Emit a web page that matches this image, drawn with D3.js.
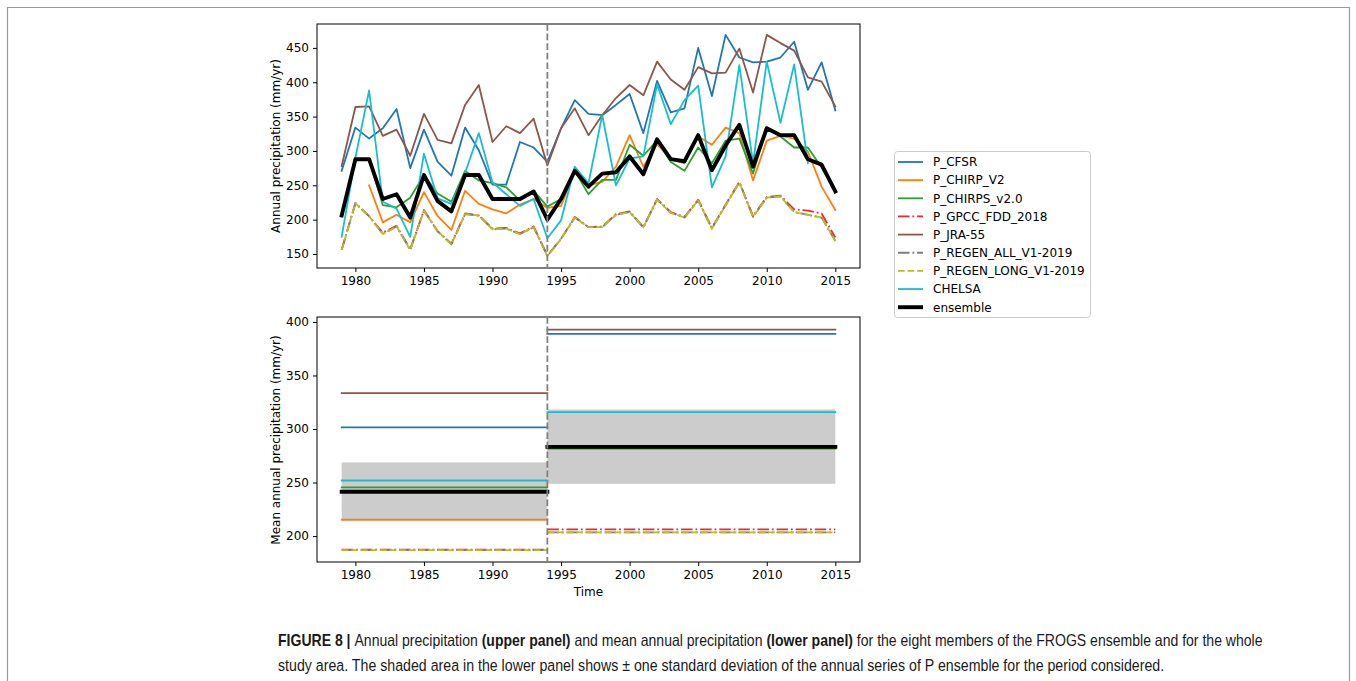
<!DOCTYPE html>
<html><head><meta charset="utf-8">
<script src="https://cdn.jsdelivr.net/npm/d3@7/dist/d3.min.js"></script>
<style>
body{margin:0;background:#fff;}
svg{display:block;}
</style></head>
<body>
<svg id="chart" width="1356" height="681"></svg>
<script>
// ---------- DATA ----------
const years = [1979,1980,1981,1982,1983,1984,1985,1986,1987,1988,1989,1990,1991,1992,1993,1994,1995,1996,1997,1998,1999,2000,2001,2002,2003,2004,2005,2006,2007,2008,2009,2010,2011,2012,2013,2014,2015];
const P_CFSR = [271,334,318,333,361,275,331,284,264,334,301,251,251,313,305,284,333,374,354,352,367,383,326,402,356,362,450,380,469,436,429,430,436,459,389,429,359];
const P_CHIRP_V2 = [null,null,250,196,207,196,240,205,185,242,223,215,209,222,230,217,220,271,250,255,277,323,277,310,288,282,321,309,334,326,257,315,322,318,299,248,214];
const P_CHIRPS_v2 = [null,null,288,221,218,232,265,238,226,271,257,253,247,228,242,219,230,271,237,258,258,309,293,315,284,271,305,282,315,318,267,334,321,305,305,276,241];
const P_GPCC_FDD_2018 = [156,224,205,181,191,157,214,183,165,209,206,187,188,180,190,148,172,204,189,190,208,212,189,230,211,204,229,188,222,255,205,233,235,215,213,209,174];
const P_JRA_55 = [278,364,365,322,331,293,354,316,311,367,396,313,336,326,347,279,333,362,323,352,377,396,381,430,404,389,422,413,414,449,385,469,457,446,407,401,365];
const P_REGEN_ALL = [156,224,205,179,190,156,213,183,164,208,206,186,187,179,189,147,172,203,189,189,207,211,189,229,210,203,228,187,221,254,204,232,234,211,207,203,169];
const P_REGEN_LONG = [156,224,205,179,190,156,213,183,164,208,206,186,187,179,189,147,172,203,189,189,207,211,189,229,210,203,228,187,221,254,204,232,234,211,207,203,169];
const CHELSA = [175,290,388,226,216,175,296,231,223,268,326,254,237,220,230,173,199,277,253,352,250,289,292,397,339,374,395,247,292,425,282,430,341,426,282,null,null];
const ensemble = [206,288,288,230,237,203,265,227,212,265,265,230,230,230,241,200,230,271,248,267,269,292,266,317,288,285,323,272,308,338,277,333,323,323,288,280,241];

const seriesNames = ["P_CFSR","P_CHIRP_V2","P_CHIRPS_v2.0","P_GPCC_FDD_2018","P_JRA-55","P_REGEN_ALL_V1-2019","P_REGEN_LONG_V1-2019","CHELSA","ensemble"];
const seriesValues = [P_CFSR,P_CHIRP_V2,P_CHIRPS_v2,P_GPCC_FDD_2018,P_JRA_55,P_REGEN_ALL,P_REGEN_LONG,CHELSA,ensemble];

// lower panel: period means (same series order)
const periodStart = [1979, 1994];
const periodEnd = [1994, 2015];
const meanEarly = [301.5,215.4,245.4,187.3,333.6,186.8,186.8,251.9,241.4];
const meanLate  = [388.9,282.5,281.8,206.2,392.9,203.4,203.4,315.7,283.3];
const bandLow  = [213.9, 248.8];
const bandHigh = [268.8, 318.2];
const breakYear = 1994;

const xTicks = [1980,1985,1990,1995,2000,2005,2010,2015];
const yTicksTop = [150,200,250,300,350,400,450];
const yTicksBottom = [200,250,300,350,400];

// ---------- STYLE ----------
const styles = [
  {color:"#1f77b4", dash:null, w:1.8},
  {color:"#ff7f0e", dash:null, w:1.8},
  {color:"#2ca02c", dash:null, w:1.8},
  {color:"#ee2a2a", dash:"11.5,2.9,1.8,2.9", w:1.8},
  {color:"#8c564b", dash:null, w:1.8},
  {color:"#7f7f7f", dash:"11.5,2.9,1.8,2.9", w:1.8},
  {color:"#bcbd22", dash:"6.7,2.9", w:1.8},
  {color:"#17becf", dash:null, w:1.8},
  {color:"#000000", dash:null, w:3.9}
];
const FONT = "DejaVu Sans, sans-serif";

const svg = d3.select("#chart");

// figure frame
svg.append("path").attr("d","M7.5,690 V7.5 H1349.5 V690")
  .attr("fill","none").attr("stroke","#9a9a9a").attr("stroke-width",1.2);

const axL = 317, axR = 860;
const x = d3.scaleLinear().domain([1977.2, 2016.8]).range([axL, axR]);
const yTop = d3.scaleLinear().domain([129.6, 484.8]).range([268, 24]);
const yBot = d3.scaleLinear().domain([175.8, 404.6]).range([562, 317]);

function drawAxes(g, y, yTicks, top, bottom){
  const ax = g.append("g").attr("transform",`translate(0,${bottom})`)
    .call(d3.axisBottom(x).tickValues(xTicks).tickFormat(d3.format("d")).tickSizeOuter(0).tickSize(4).tickPadding(4));
  const ay = g.append("g").attr("transform",`translate(${axL},0)`)
    .call(d3.axisLeft(y).tickValues(yTicks).tickSizeOuter(0).tickSize(4).tickPadding(4));
  [ax,ay].forEach(a=>{
    a.select(".domain").remove();
    a.selectAll("text").attr("font-family",FONT).attr("font-size",12).attr("fill","#000");
    a.selectAll("line").attr("stroke","#000").attr("stroke-width",1);
  });
  g.append("rect").attr("x",axL).attr("y",top).attr("width",axR-axL).attr("height",bottom-top)
    .attr("fill","none").attr("stroke","#000").attr("stroke-width",1);
  g.append("line").attr("x1",x(breakYear)).attr("x2",x(breakYear)).attr("y1",top).attr("y2",bottom)
    .attr("stroke","#808080").attr("stroke-width",1.8).attr("stroke-dasharray","6.7,2.9");
}

// ---------- UPPER PANEL ----------
const gTop = svg.append("g");
svg.append("clipPath").attr("id","ct").append("rect")
  .attr("x",axL).attr("y",24).attr("width",axR-axL).attr("height",244);
const line = d3.line().defined(d=>d[1]!==null).x(d=>x(d[0])).y(d=>yTop(d[1]));
const linesTop = gTop.append("g").attr("clip-path","url(#ct)");
seriesValues.forEach((vals,i)=>{
  const s = styles[i];
  linesTop.append("path").datum(years.map((yr,k)=>[yr,vals[k]]))
    .attr("d",line).attr("fill","none").attr("stroke",s.color).attr("stroke-width",s.w)
    .attr("stroke-linejoin","round").attr("stroke-linecap", s.dash ? "butt" : "square")
    .attr("stroke-dasharray",s.dash);
});
drawAxes(gTop, yTop, yTicksTop, 24, 268);
gTop.append("text").attr("transform","translate(280,146) rotate(-90)")
  .attr("text-anchor","middle").attr("font-family",FONT).attr("font-size",12)
  .text("Annual precipitation (mm/yr)");

// ---------- LOWER PANEL ----------
const gBot = svg.append("g");
[0,1].forEach(p=>{
  gBot.append("rect").attr("x",x(periodStart[p])).attr("width",x(periodEnd[p])-x(periodStart[p]))
    .attr("y",yBot(bandHigh[p])).attr("height",yBot(bandLow[p])-yBot(bandHigh[p]))
    .attr("fill","#cccccc");
});
seriesValues.forEach((vals,i)=>{
  const s = styles[i];
  [[meanEarly[i],0],[meanLate[i],1]].forEach(([m,p])=>{
    gBot.append("line").attr("x1",x(periodStart[p])).attr("x2",x(periodEnd[p]))
      .attr("y1",yBot(m)).attr("y2",yBot(m))
      .attr("stroke",s.color).attr("stroke-width",s.w)
      .attr("stroke-linecap", s.dash ? "butt" : "square")
      .attr("stroke-dasharray",s.dash);
  });
});
drawAxes(gBot, yBot, yTicksBottom, 317, 562);
gBot.append("text").attr("transform","translate(280,440) rotate(-90)")
  .attr("text-anchor","middle").attr("font-family",FONT).attr("font-size",12)
  .text("Mean annual precipitation (mm/yr)");
gBot.append("text").attr("x",(axL+axR)/2).attr("y",596).attr("text-anchor","middle")
  .attr("font-family",FONT).attr("font-size",12).text("Time");

// ---------- LEGEND ----------
const lg = svg.append("g");
lg.append("rect").attr("x",894.5).attr("y",151.5).attr("width",196).attr("height",166).attr("rx",3)
  .attr("fill","#fff").attr("stroke","#cccccc").attr("stroke-width",1);
seriesNames.forEach((name,i)=>{
  const s = styles[i];
  const yy = 162 + i*18.15;
  lg.append("line").attr("x1",898).attr("x2",923).attr("y1",yy).attr("y2",yy)
    .attr("stroke",s.color).attr("stroke-width",s.w).attr("stroke-dasharray",s.dash);
  lg.append("text").attr("x",933).attr("y",yy).attr("dy","0.36em")
    .attr("font-family",FONT).attr("font-size",12).text(name);
});

// ---------- CAPTION ----------
const capFont = "Liberation Sans, Arial, Helvetica, sans-serif";
const cap1 = svg.append("text").attr("font-family",capFont)
  .attr("font-size",16.5).attr("fill","#1a1a1a");
[["FIGURE 8 | ",true],["Annual precipitation ",false],["(upper panel)",true],
 [" and mean annual precipitation ",false],["(lower panel)",true],
 [" for the eight members of the FROGS ensemble and for the whole",false]]
 .forEach(([t,b])=>cap1.append("tspan").attr("font-weight",b?"bold":"normal").text(t));
const cap2 = svg.append("text").attr("font-family",capFont)
  .attr("font-size",16.5).attr("fill","#1a1a1a")
  .text("study area. The shaded area in the lower panel shows \u00b1 one standard deviation of the annual series of P ensemble for the period considered.");
[[cap1,985,646],[cap2,887,671]].forEach(([t,target,yb])=>{
  const w = t.node().getComputedTextLength();
  t.attr("transform",`translate(278,${yb}) scale(${target/w},1)`);
});
</script>
</body></html>
